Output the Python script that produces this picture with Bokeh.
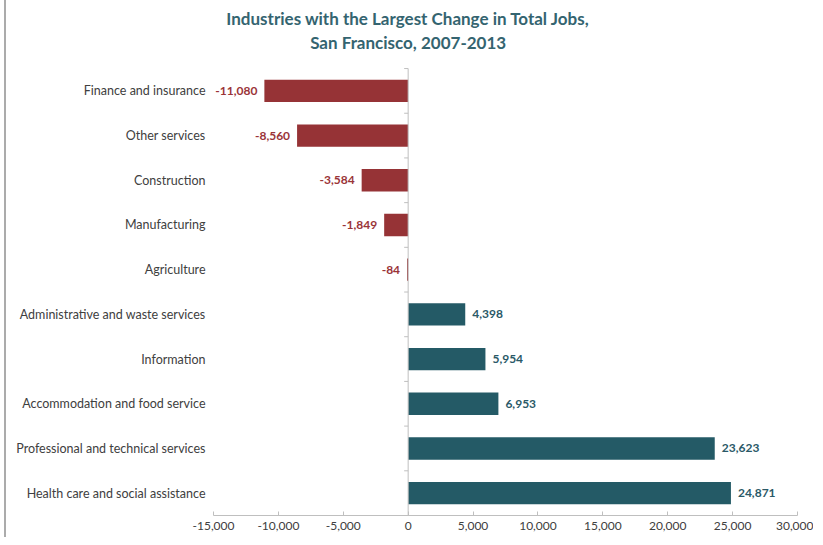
import numpy as np
from bokeh.plotting import figure
from bokeh.models import ColumnDataSource, Range1d, FixedTicker, NumeralTickFormatter
from bokeh.core.properties import value
from bokeh.embed import file_html
from bokeh.resources import INLINE

# ---- data ----
industries = [
    "Finance and insurance",
    "Other services",
    "Construction",
    "Manufacturing",
    "Agriculture",
    "Administrative and waste services",
    "Information",
    "Accommodation and food service",
    "Professional and technical services",
    "Health care and social assistance",
]
job_change = [-11080, -8560, -3584, -1849, -84, 4398, 5954, 6953, 23623, 24871]
x_ticks = [-15000, -10000, -5000, 0, 5000, 10000, 15000, 20000, 25000, 30000]
title_lines = ["Industries with the Largest Change in Total Jobs,", "San Francisco, 2007-2013"]

NEG = "#963336"
POS = "#245A66"
NEG_TXT = "#9A3438"
POS_TXT = "#2A5967"
TXT = "#404040"
AXIS = "#BFBFBF"
FONT = "Lato"

n = len(industries)
pos = [i + 0.5 for i in range(n)]
src = ColumnDataSource(dict(
    y=pos,
    v=job_change,
    color=[NEG if v < 0 else POS for v in job_change],
    tcolor=[NEG_TXT if v < 0 else POS_TXT for v in job_change],
    label=[f"{v:,}" for v in job_change],
    align=["right" if v < 0 else "left" for v in job_change],
    xoff=[-7 if v < 0 else 7 for v in job_change],
))

p = figure(width=809, height=537, output_backend="svg", toolbar_location=None,
           x_range=Range1d(x_ticks[0], x_ticks[-1]), y_range=Range1d(n, -1.5),
           min_border_left=207, min_border_right=18, min_border_top=1, min_border_bottom=22,
           styles={"border-left": "2px solid #ABABAB", "margin-left": "4px"})
p.outline_line_color = None
p.xgrid.visible = False
p.ygrid.visible = False

p.hbar(y="y", left=0, right="v", height=0.5, fill_color="color", line_color=None, source=src)

p.text(x="v", y="y", text="label", text_align="align", x_offset="xoff",
       text_baseline="middle", text_color="tcolor", text_font=value(FONT),
       text_font_size="12px", text_font_style="bold", source=src)

# zero (category) axis line and boundary ticks
p.segment(x0=[0], y0=[0], x1=[0], y1=[n], line_color=AXIS, line_width=1)
p.ray(x=[0] * (n + 1), y=list(range(n + 1)), length=4, length_units="screen",
      angle=np.pi, line_color=AXIS, line_width=1)

# title
p.text(x=[0] * len(title_lines), y=[-1.12, -0.58], text=title_lines, text_align="center",
       text_baseline="middle", text_font=value(FONT), text_font_size="17px",
       text_font_style="bold", text_color="#346470")

# x axis
xa = p.xaxis[0]
xa.ticker = FixedTicker(ticks=x_ticks)
xa.formatter = NumeralTickFormatter(format="0,0")
xa.axis_line_color = AXIS
xa.major_tick_line_color = AXIS
xa.major_tick_in = 4
xa.major_tick_out = 0
xa.minor_tick_line_color = None
xa.major_label_text_font = FONT
xa.major_label_text_font_size = "12px"
xa.major_label_text_color = TXT
xa.major_label_standoff = 6

# y axis (category names)
ya = p.yaxis[0]
ya.ticker = FixedTicker(ticks=pos)
ya.major_label_overrides = {pp: name for pp, name in zip(pos, industries)}
ya.axis_line_color = None
ya.major_tick_line_color = None
ya.major_tick_in = 0
ya.major_tick_out = 0
ya.minor_tick_line_color = None
ya.major_label_text_font = FONT
ya.major_label_text_font_size = "12.5px"
ya.major_label_text_color = TXT
ya.major_label_standoff = 8

open("out.html", "w").write(file_html(p, INLINE))
